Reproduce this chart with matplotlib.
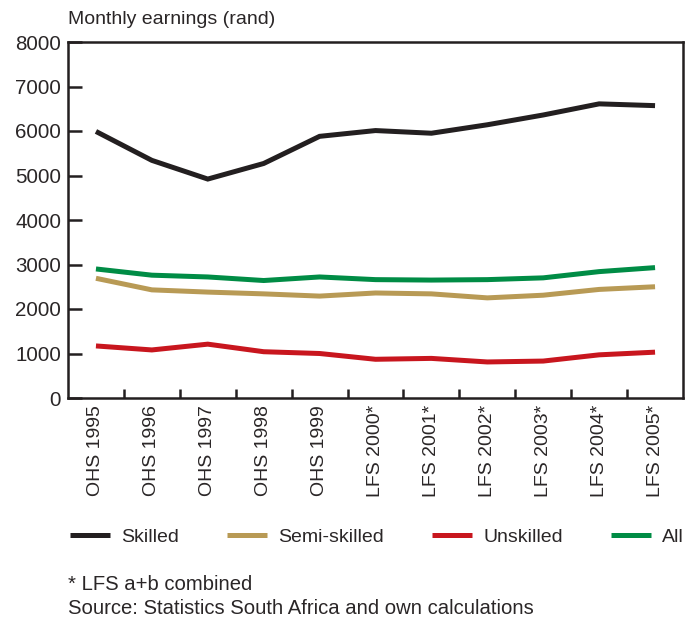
import matplotlib
matplotlib.use("Agg")
import matplotlib.pyplot as plt
import numpy as np
from matplotlib.ticker import FixedLocator

plt.rcParams['font.family'] = ['Liberation Sans', 'DejaVu Sans']

categories = ["OHS 1995", "OHS 1996", "OHS 1997", "OHS 1998", "OHS 1999",
              "LFS 2000*", "LFS 2001*", "LFS 2002*", "LFS 2003*", "LFS 2004*", "LFS 2005*"]
skilled = [5990, 5340, 4920, 5270, 5880, 6010, 5950, 6140, 6360, 6610, 6570]
semi_skilled = [2690, 2430, 2380, 2340, 2290, 2360, 2340, 2250, 2310, 2440, 2500]
unskilled = [1170, 1080, 1210, 1040, 1000, 870, 890, 810, 830, 970, 1030]
all_workers = [2900, 2760, 2720, 2640, 2720, 2660, 2650, 2660, 2700, 2840, 2930]
y_ticks = [0, 1000, 2000, 3000, 4000, 5000, 6000, 7000, 8000]

series = [("Skilled", skilled, "#231f20"),
          ("Semi-skilled", semi_skilled, "#b89a55"),
          ("Unskilled", unskilled, "#c8161e"),
          ("All", all_workers, "#008c45")]

text_color = "#2a2627"
W, H = 686, 619
fig = plt.figure(figsize=(W / 100, H / 100), dpi=100)
ax = fig.add_axes([68 / W, (H - 398) / H, (683 - 68) / W, (398 - 42) / H])

x = np.arange(len(categories))
handles = []
for name, vals, col in series:
    h, = ax.plot(x, vals, color=col, lw=3.6, solid_joinstyle='miter', solid_capstyle='butt', label=name)
    handles.append(h)

ax.set_xlim(-0.5, len(categories) - 0.5)
ax.set_ylim(0, 8000)
ax.set_yticks(y_ticks)
ax.set_yticklabels([str(v) for v in y_ticks], fontsize=14.8, color=text_color)
ax.set_xticks(x)
ax.set_xticklabels(categories, rotation=90, fontsize=14, color=text_color)
ax.xaxis.set_minor_locator(FixedLocator(np.arange(0.5, len(categories) - 1, 1.0)))
ax.tick_params(axis='x', which='major', length=0, pad=5)
ax.tick_params(axis='x', which='minor', direction='in', length=6.5, width=1.8, color="#231f20")
ax.tick_params(axis='y', which='major', direction='in', length=10, width=1.8, color="#231f20", pad=5)
for s in ax.spines.values():
    s.set_linewidth(1.8)
    s.set_color("#231f20")

fig.text(68 / W, 1 - 20 / H, "Monthly earnings (rand)", fontsize=14, color=text_color, va='center', ha='left')

leg = fig.legend(handles=handles, loc='center left', bbox_to_anchor=(70 / W, 1 - 537 / H),
                 ncol=4, frameon=False, fontsize=14, handlelength=2.05, handletextpad=0.6,
                 columnspacing=2.45, borderaxespad=0, borderpad=0)
for t in leg.get_texts():
    t.set_color(text_color)
for lh in leg.get_lines():
    lh.set_linewidth(3.6)

fig.text(68 / W, 1 - 585 / H, "* LFS a+b combined", fontsize=14.6, color=text_color, va='center', ha='left')
fig.text(68 / W, 1 - 609 / H, "Source: Statistics South Africa and own calculations", fontsize=14.6,
         color=text_color, va='center', ha='left')

fig.savefig("out.png", dpi=100)
